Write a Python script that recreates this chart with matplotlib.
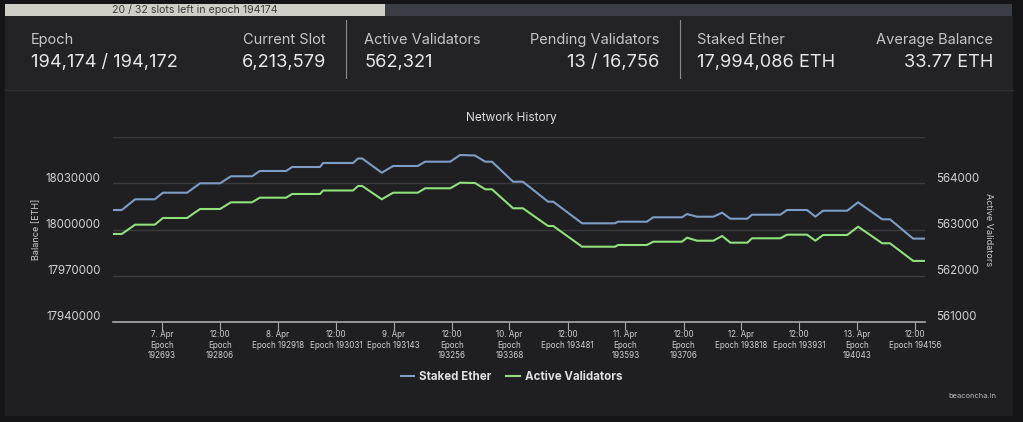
import matplotlib.pyplot as plt
from matplotlib.patches import Rectangle
from matplotlib.transforms import ScaledTranslation

plt.rcParams['font.family'] = ['Inter', 'DejaVu Sans']

# values (x = epoch)
epochs = [192598, 192615, 192641, 192679, 192695, 192742, 192767, 192806, 192827, 192868,
          192883, 192934, 192946, 193000, 193006, 193064, 193074, 193082, 193120, 193142,
          193190, 193204, 193253, 193272, 193301, 193321, 193334, 193375, 193394, 193443,
          193453, 193509, 193573, 193579, 193635, 193647, 193703, 193713, 193732, 193764,
          193781, 193797, 193830, 193839, 193894, 193907, 193946, 193962, 193977, 194024,
          194045, 194092, 194107, 194152, 194174]
staked_ether = [18012650, 18012650, 18019590, 18019590, 18023870, 18023870, 18029970, 18029970,
                18034510, 18034510, 18037950, 18037950, 18040540, 18040540, 18043135, 18043135,
                18046054, 18046054, 18036843, 18041190, 18041190, 18043980, 18043980, 18048324,
                18048000, 18043980, 18043980, 18031005, 18031005, 18018032, 18018032, 18004022,
                18004022, 18005059, 18005059, 18007913, 18007913, 18010054, 18008303, 18008303,
                18010897, 18007005, 18007005, 18009600, 18009600, 18012649, 18012649, 18008303,
                18012195, 18012195, 18017643, 18006616, 18006616, 17994086, 17994086]
active_validators = [562903, 562903, 563104, 563104, 563249, 563249, 563443, 563443,
                     563588, 563588, 563688, 563688, 563768, 563768, 563843, 563843,
                     563941, 563941, 563653, 563796, 563796, 563891, 563891, 564012,
                     564005, 563869, 563869, 563459, 563459, 563076, 563076, 562628,
                     562628, 562665, 562665, 562736, 562736, 562823, 562758, 562758,
                     562860, 562715, 562715, 562810, 562810, 562888, 562888, 562758,
                     562881, 562881, 563061, 562702, 562702, 562321, 562321]

tick_epochs = [192693, 192806, 192918, 193031, 193143, 193256, 193368,
               193481, 193593, 193706, 193818, 193931, 194043, 194156]
tick_labels = ['7. Apr\nEpoch\n192693', '12:00\nEpoch\n192806', '8. Apr\nEpoch 192918',
               '12:00\nEpoch 193031', '9. Apr\nEpoch 193143', '12:00\nEpoch\n193256',
               '10. Apr\nEpoch\n193368', '12:00\nEpoch 193481', '11. Apr\nEpoch\n193593',
               '12:00\nEpoch\n193706', '12. Apr\nEpoch 193818', '12:00\nEpoch 193931',
               '13. Apr\nEpoch\n194043', '12:00\nEpoch 194156']
left_ticks = [17940000, 17970000, 18000000, 18030000, 18060000]
right_ticks = [561000, 562000, 563000, 564000]

stat_names = ['Epoch', 'Current Slot', 'Active Validators',
              'Pending Validators', 'Staked Ether', 'Average Balance']
stat_values = ['194,174 / 194,172', '6,213,579', '562,321',
               '13 / 16,756', '17,994,086 ETH', '33.77 ETH']
stat_x = [31, 326, 364, 659, 697, 993]
stat_ha = ['left', 'right', 'left', 'right', 'left', 'right']

blue = '#7d9dc6'
green = '#90e07c'

fig = plt.figure(figsize=(10.23, 4.22), dpi=100)
fig.patch.set_facecolor('#151517')

# page background / header drawn in pixel coords
bg = fig.add_axes([0, 0, 1, 1])
bg.set_xlim(0, 1023)
bg.set_ylim(422, 0)
bg.axis('off')
bg.add_patch(Rectangle((5, 16), 1008, 73, color='#232225', lw=0))
bg.add_patch(Rectangle((5, 89), 1008, 327, color='#1f1e21', lw=0))
bg.plot([5, 1013], [89.5, 89.5], color='#2e2d31', lw=1)
bg.add_patch(Rectangle((5, 4), 380, 11.5, color='#cfcfc7', lw=0))
bg.add_patch(Rectangle((385, 4), 627, 11.5, color='#3b3e44', lw=0))
bg.text(195, 10, '20 / 32 slots left in epoch 194174', ha='center', va='center',
        fontsize=7.6, color='#3a3a3a')

for name, val, x, ha in zip(stat_names, stat_values, stat_x, stat_ha):
    bg.text(x, 44, name, ha=ha, va='baseline', fontsize=10.5, color='#c6c6c6')
    bg.text(x, 67, val, ha=ha, va='baseline', fontsize=13.1, color='#e8e8e8')
for x in [345.5, 679.5]:
    bg.plot([x, x], [20, 78], color='#8c8c8c', lw=0.8)

bg.text(511, 121, 'Network History', ha='center', va='baseline', fontsize=8.5, color='#e0e0e0')
bg.text(996, 396, 'beaconcha.in', ha='right', va='center', fontsize=5.4, color='#bdbdbd')

# chart
ax = fig.add_axes([113 / 1023, 1 - 322 / 422, 812 / 1023, 185 / 422])
ax.set_facecolor('none')
ax2 = ax.twinx()

l1, = ax.plot(epochs, staked_ether, color=blue, lw=1.5, label='Staked Ether')
l2, = ax2.plot(epochs, active_validators, color=green, lw=1.5, label='Active Validators')

ax.set_xlim(192598, 194175)
ax.set_ylim(17940000, 18060000)
ax2.set_ylim(561000, 565000)

ax.set_yticks(left_ticks, labels=[str(v) for v in left_ticks[:-1]] + [''])
ax2.set_yticks(right_ticks, labels=[str(v) for v in right_ticks])
ax.set_xticks(tick_epochs, labels=tick_labels)

ax.grid(axis='y', color='#3b3a3e', lw=1)
for a in (ax, ax2):
    for s in a.spines.values():
        s.set_visible(False)
ax.spines['bottom'].set_visible(True)
ax.spines['bottom'].set_color('#a9a9b0')
ax.spines['bottom'].set_linewidth(1.2)

ax.tick_params(axis='y', length=0, pad=9, labelsize=8.3, labelcolor='#d2d2d2')
ax2.tick_params(axis='y', length=0, pad=8, labelsize=8.3, labelcolor='#d2d2d2')
ax.tick_params(axis='x', length=6, width=0.8, color='#a9a9b0', pad=0,
               labelsize=5.8, labelcolor='#d0d0d0')
for lab in ax.get_xticklabels():
    lab.set_linespacing(1.2)

shift = ScaledTranslation(0, 0.06, fig.dpi_scale_trans)
for lab in ax.get_yticklabels() + ax2.get_yticklabels():
    lab.set_transform(lab.get_transform() + shift)

ax.set_ylabel('Balance [ETH]', fontsize=6.5, color='#d0d0d0', labelpad=3)
ax2.set_ylabel('Active Validators', fontsize=6.5, color='#d0d0d0', rotation=270, labelpad=10)

fig.legend(handles=[l1, l2], loc='center', bbox_to_anchor=(0.5, 1 - 377 / 422),
           ncol=2, frameon=False, handlelength=1.15, handletextpad=0.45,
           columnspacing=1.3, prop={'weight': 'bold', 'size': 8.3}, labelcolor='#e0e0e0')

fig.savefig('out.png', dpi=100, facecolor=fig.get_facecolor())
